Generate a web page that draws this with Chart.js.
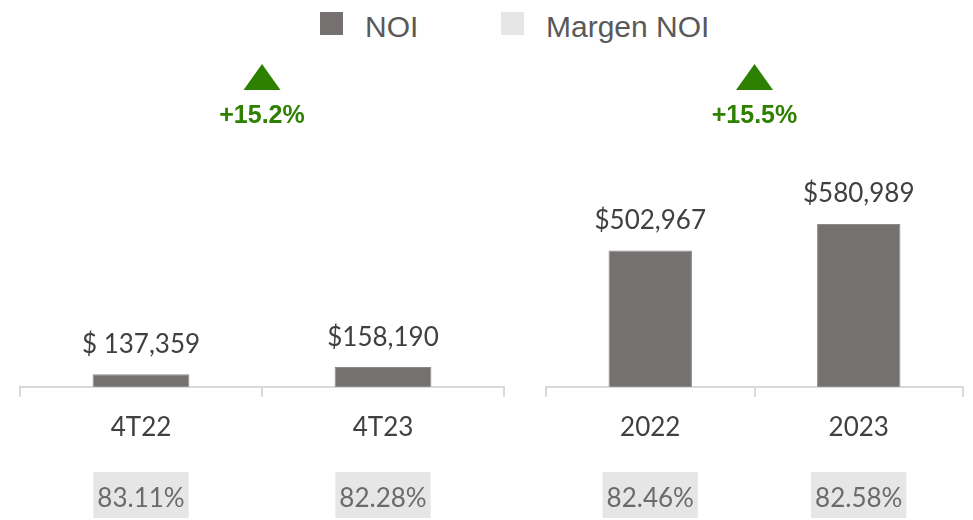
<!DOCTYPE html>
<html>
<head>
<meta charset="utf-8">
<script src="https://cdn.jsdelivr.net/npm/chart.js@4.4.1/dist/chart.umd.min.js"></script>
<style>
    body { margin: 0; background: #fff; width: 973px; height: 520px; overflow: hidden; position: relative; }
    .swatch { position: absolute; top: 12px; width: 23px; height: 23px; }
    .legend-text { position: absolute; top: 10px; white-space: nowrap; font-family: 'Liberation Sans', Arial, sans-serif; font-size: 30px; line-height: 34px; color: #595959; }
    #quarterBox { position: absolute; left: 0; top: 0; width: 524px; height: 520px; }
    #yearBox { position: absolute; left: 526px; top: 0; width: 447px; height: 520px; }
</style>
</head>
<body>
<div id="legend"></div>
<div id="quarterBox"><canvas id="quarterChart"></canvas></div>
<div id="yearBox"><canvas id="yearChart"></canvas></div>
<script>
// Data
const seriesNames = ['NOI', 'Margen NOI'];
const seriesColors = ['#767171', '#e7e6e6'];

const quarterLabels = ['4T22', '4T23'];
const quarterNoi = [137359, 158190];
const quarterNoiText = ['$ 137,359', '$158,190'];
const quarterMargin = [83.11, 82.28];

const yearLabels = ['2022', '2023'];
const yearNoi = [502967, 580989];
const yearNoiText = ['$502,967', '$580,989'];
const yearMargin = [82.46, 82.58];

const axisMin = 100000;
const axisMax = 800000;

// Legend (HTML, one row across both panels)
const legendEl = document.getElementById('legend');
const legendPos = [{ sw: 320, tx: 365 }, { sw: 501, tx: 546 }];
seriesNames.forEach((name, i) => {
    const sw = document.createElement('div');
    sw.className = 'swatch';
    sw.style.left = legendPos[i].sw + 'px';
    sw.style.background = seriesColors[i];
    const tx = document.createElement('div');
    tx.className = 'legend-text';
    tx.style.left = legendPos[i].tx + 'px';
    tx.textContent = name;
    legendEl.appendChild(sw);
    legendEl.appendChild(tx);
});

// Labels above bars, growth arrow and margin boxes
const panelPlugin = {
    id: 'panel',
    afterDatasetsDraw(chart, args, opts) {
        const ctx = chart.ctx;
        const meta = chart.getDatasetMeta(0);
        const xScale = chart.scales.x;
        const area = chart.chartArea;
        ctx.save();
        ctx.textAlign = 'center';
        ctx.textBaseline = 'middle';

        // value labels
        ctx.font = "26px 'Lato', sans-serif";
        ctx.fillStyle = '#404040';
        meta.data.forEach((bar, i) => {
            ctx.fillText(opts.valueText[i], bar.x, bar.y - 30);
        });

        // margin boxes
        opts.margin.forEach((m, i) => {
            const x = xScale.getPixelForValue(i);
            const t = m.toFixed(2) + '%';
            const w = ctx.measureText(t).width + 8;
            ctx.fillStyle = seriesColors[1];
            ctx.fillRect(x - w / 2, chart.height - 48, w, 46);
            ctx.fillStyle = '#6b6b6b';
            ctx.fillText(t, x, chart.height - 21);
        });

        // growth arrow
        const data = chart.data.datasets[0].data;
        const growth = (data[1] / data[0] - 1) * 100;
        const cx = (area.left + area.right) / 2;
        ctx.fillStyle = '#2e8000';
        ctx.beginPath();
        ctx.moveTo(cx, 64);
        ctx.lineTo(cx + 18.5, 90);
        ctx.lineTo(cx - 18.5, 90);
        ctx.closePath();
        ctx.fill();
        ctx.font = "bold 25px 'Liberation Sans', Arial, sans-serif";
        ctx.fillText('+' + growth.toFixed(1) + '%', cx, 116);
        ctx.restore();
    }
};

const makeChart = (id, labels, values, valueText, margin, padRight) => {
    const ctx = document.getElementById(id).getContext('2d');
    return new Chart(ctx, {
        type: 'bar',
        data: {
            labels: labels,
            datasets: [{
                label: seriesNames[0],
                data: values,
                backgroundColor: seriesColors[0],
                borderColor: '#8c8888',
                borderWidth: 1,
                barPercentage: 0.8,
                categoryPercentage: 0.5
            }]
        },
        options: {
            responsive: true,
            maintainAspectRatio: false,
            animation: false,
            layout: { padding: { left: 20, right: padRight, top: 150, bottom: 62 } },
            plugins: {
                legend: { display: false },
                tooltip: { enabled: false },
                panel: { valueText: valueText, margin: margin }
            },
            scales: {
                x: {
                    grid: { drawOnChartArea: false, drawTicks: true, tickLength: 10, color: '#d9d9d9', lineWidth: 2 },
                    border: { display: true, color: '#d9d9d9', width: 2 },
                    ticks: { color: '#404040', padding: 15, font: { family: "'Lato', sans-serif", size: 26 } }
                },
                y: { display: false, min: axisMin, max: axisMax }
            }
        },
        plugins: [panelPlugin]
    });
};

makeChart('quarterChart', quarterLabels, quarterNoi, quarterNoiText, quarterMargin, 20);
makeChart('yearChart', yearLabels, yearNoi, yearNoiText, yearMargin, 10);
</script>
</body>
</html>
